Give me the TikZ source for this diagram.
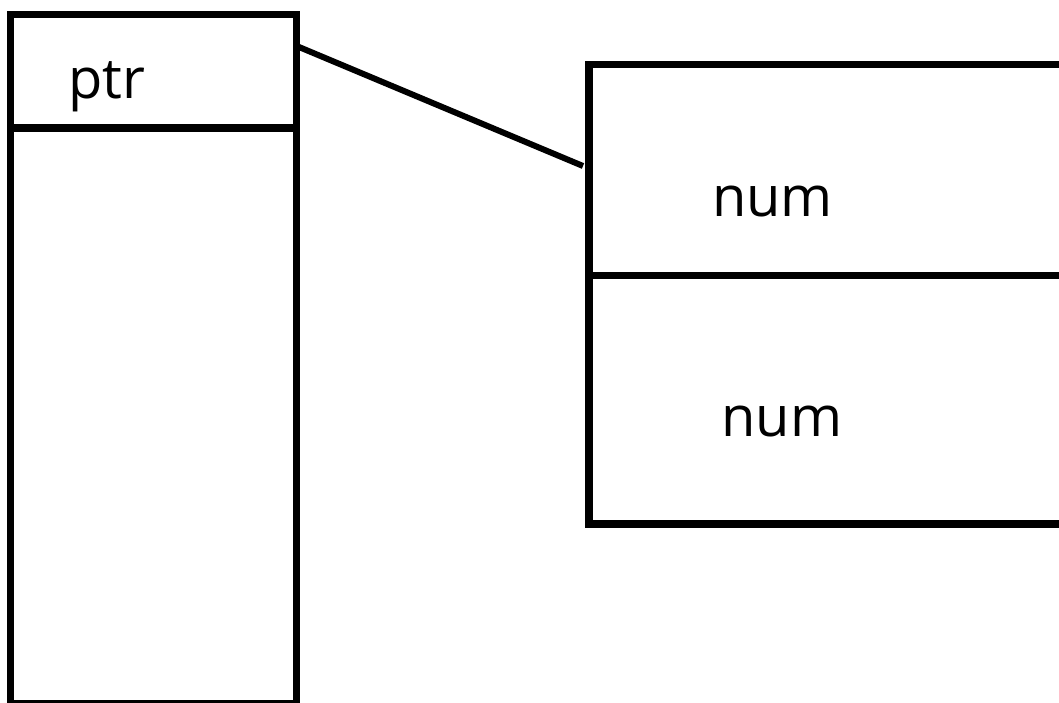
\documentclass[tikz,border=0pt]{standalone}
\usepackage{fontspec}
\setmainfont{Open Sans}
\begin{document}
\begin{tikzpicture}[x=1pt,y=-1pt,
  frame/.style={draw=black,line width=7.5pt,inner sep=0pt,outer sep=0pt},
  rule/.style={draw=black,line width=7.5pt},
  link/.style={draw=black,line width=6pt},
  lbl/.style={anchor=base,inner sep=0pt,font=\fontsize{56}{60}\selectfont}]
  \useasboundingbox (0,0) rectangle (1059,702);
  \clip (0,0) rectangle (1059,702);
  % left column: pointer cell on top of a tall frame
  \node[frame,minimum width=286pt,minimum height=689pt] (stack) at (153.5,359) {};
  \draw[rule] (stack.west |- 0,128) coordinate (sl) -- (stack.east |- 0,128) coordinate (sr);
  \node[lbl] (ptr) at (106.5,98) {ptr};
  % right block with two num cells (runs off the right edge)
  \node[frame,minimum width=520pt,minimum height=459.5pt] (heap) at (849,294.25) {};
  \draw[rule] (heap.west |- 0,275.5) coordinate (hl) -- (heap.east |- 0,275.5) coordinate (hr);
  \node[lbl] (numa) at (772.5,216) {num};
  \node[lbl] (numb) at (782,436) {num};
  % pointer link
  \coordinate (p0) at (299,47);
  \coordinate (p1) at (583,166);
  \draw[link] (p0) -- (p1);
\end{tikzpicture}
\end{document}
